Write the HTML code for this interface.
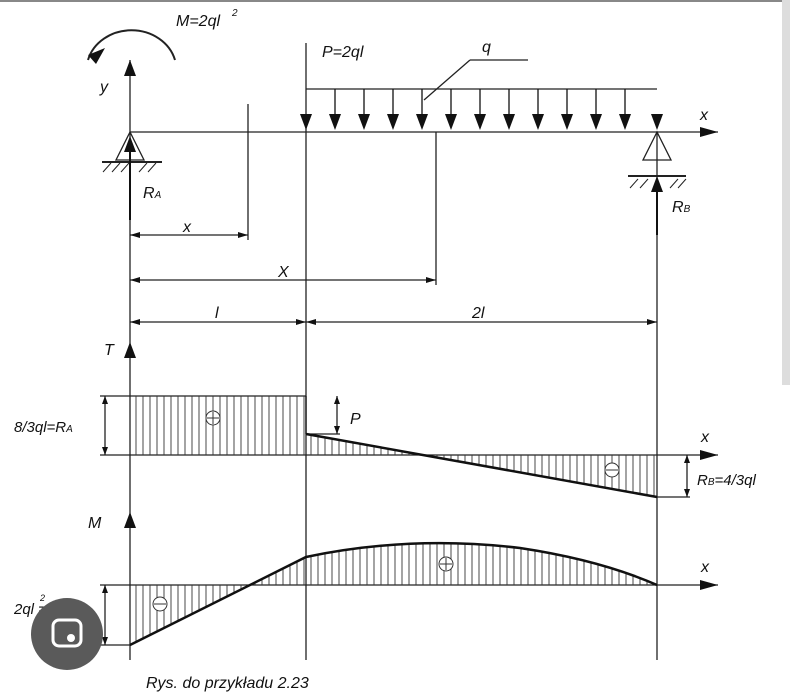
<!DOCTYPE html><html><head><style>body{margin:0;background:#fff}svg{display:block}text{font-family:"Liberation Sans",sans-serif;font-style:italic;fill:#111}</style></head><body>
<svg width="790" height="699" viewBox="0 0 790 699" xmlns="http://www.w3.org/2000/svg">
<defs><pattern id="h" width="7" height="10" patternUnits="userSpaceOnUse"><line x1="3" y1="0" x2="3" y2="10" stroke="#333" stroke-width="0.9"/></pattern></defs>
<rect x="0" y="0" width="790" height="2" fill="#888"/>
<rect x="782" y="0" width="8" height="385" fill="#ddd"/>
<g stroke="#222" stroke-width="1.3" fill="none">
<line x1="130" y1="60" x2="130" y2="660"/>
<line x1="306" y1="43" x2="306" y2="660"/>
<line x1="657" y1="132" x2="657" y2="660"/>
<line x1="248" y1="104" x2="248" y2="240"/>
<line x1="436" y1="132" x2="436" y2="285"/>
<line x1="130" y1="132" x2="718" y2="132"/>
<line x1="306" y1="89" x2="657" y2="89"/>
<line x1="424" y1="100" x2="470" y2="60"/><line x1="470" y1="60" x2="528" y2="60"/>
<path d="M130,132 L116,160 L144,160Z"/><line x1="102" y1="162" x2="162" y2="162" stroke-width="2"/>
<path d="M657,132 L643,160 L671,160Z"/><line x1="628" y1="176" x2="686" y2="176" stroke-width="2"/>
<path d="M103,172 l8,-9 M112,172 l8,-9 M121,172 l8,-9 M139,172 l8,-9 M148,172 l8,-9 M630,188 l8,-9 M640,188 l8,-9 M670,188 l8,-9 M678,188 l8,-9" stroke-width="1"/>
<path d="M88,60 A45,40 0 0 1 175,60" stroke-width="2"/>
<line x1="130" y1="235" x2="248" y2="235"/><line x1="130" y1="280" x2="436" y2="280"/><line x1="130" y1="322" x2="657" y2="322"/>
<line x1="100" y1="396" x2="306" y2="396"/><line x1="100" y1="455" x2="718" y2="455"/>
<line x1="306" y1="434" x2="340" y2="434"/><line x1="657" y1="497" x2="690" y2="497"/>
<line x1="105" y1="396" x2="105" y2="455"/><line x1="337" y1="396" x2="337" y2="434"/><line x1="687" y1="455" x2="687" y2="497"/>
<line x1="100" y1="585" x2="718" y2="585"/><line x1="100" y1="645" x2="130" y2="645"/><line x1="105" y1="585" x2="105" y2="645"/>
</g>
<g fill="url(#h)" stroke="none">
<rect x="130" y="396" width="176" height="59"/>
<path d="M306,434 L420,455 L306,455Z"/><path d="M420,455 L657,497 L657,455Z"/>
<path d="M130,645 L248,585 L130,585Z"/>
<path d="M248,585 L306,557 Q410,535 520,548 Q600,560 657,585Z"/>
</g>
<g stroke="#111" stroke-width="2.5" fill="none">
<line x1="306" y1="434" x2="657" y2="497"/>
<path d="M130,645 L306,557 Q410,535 520,548 Q600,560 657,585"/>
<line x1="306" y1="396" x2="306" y2="434" stroke-width="1.3"/>
</g>
<g fill="#111">
<path d="M124,152 L130,136 L136,152Z"/><line x1="130" y1="150" x2="130" y2="220" stroke="#111" stroke-width="2"/>
<path d="M651,192 L657,176 L663,192Z"/><line x1="657" y1="190" x2="657" y2="235" stroke="#111" stroke-width="2"/>
<path d="M124,76 L130,60 L136,76Z"/>
<path d="M124,358 L130,342 L136,358Z"/><path d="M124,528 L130,512 L136,528Z"/>
<path d="M700,127 L718,132 L700,137Z"/><path d="M700,450 L718,455 L700,460Z"/><path d="M700,580 L718,585 L700,590Z"/>
<path d="M88,55 L105,48 L96,64Z"/>
<path d="M300,114 L306,130 L312,114Z"/>
<path d="M329,114 L335,130 L341,114Z"/><path d="M358,114 L364,130 L370,114Z"/><path d="M387,114 L393,130 L399,114Z"/><path d="M416,114 L422,130 L428,114Z"/><path d="M445,114 L451,130 L457,114Z"/><path d="M474,114 L480,130 L486,114Z"/><path d="M503,114 L509,130 L515,114Z"/><path d="M532,114 L538,130 L544,114Z"/><path d="M561,114 L567,130 L573,114Z"/><path d="M590,114 L596,130 L602,114Z"/><path d="M619,114 L625,130 L631,114Z"/><path d="M651,114 L657,130 L663,114Z"/>
</g>
<g stroke="#111" stroke-width="1.3">
<line x1="335" y1="89" x2="335" y2="116"/><line x1="364" y1="89" x2="364" y2="116"/><line x1="393" y1="89" x2="393" y2="116"/><line x1="422" y1="89" x2="422" y2="116"/><line x1="451" y1="89" x2="451" y2="116"/><line x1="480" y1="89" x2="480" y2="116"/><line x1="509" y1="89" x2="509" y2="116"/><line x1="538" y1="89" x2="538" y2="116"/><line x1="567" y1="89" x2="567" y2="116"/><line x1="596" y1="89" x2="596" y2="116"/><line x1="625" y1="89" x2="625" y2="116"/>
</g>
<g fill="#111"><path d="M130,235 l10,-3 v6z M248,235 l-10,-3 v6z M130,280 l10,-3 v6z M436,280 l-10,-3 v6z M130,322 l10,-3 v6z M306,322 l-10,-3 v6z M306,322 l10,-3 v6z M657,322 l-10,-3 v6z
M105,396 l-3,8 h6z M105,455 l3,-8 h-6z M337,396 l-3,8 h6z M337,434 l3,-8 h-6z M687,455 l-3,8 h6z M687,497 l3,-8 h-6z M105,585 l-3,8 h6z M105,645 l3,-8 h-6z"/></g>
<g stroke="#333" fill="#fff" stroke-width="1"><circle cx="213" cy="418" r="7"/><circle cx="612" cy="470" r="7"/><circle cx="446" cy="564" r="7"/><circle cx="160" cy="604" r="7"/></g>
<g stroke="#333" stroke-width="1"><path d="M207,418h12M213,412v12M606,470h12M440,564h12M446,558v12M154,604h12"/></g>
<g font-size="16">
<text x="176" y="26">M=2ql</text><text x="232" y="16" font-size="10">2</text>
<text x="322" y="57">P=2ql</text><text x="482" y="52">q</text><text x="100" y="92">y</text>
<text x="700" y="120">x</text><text x="143" y="198">R<tspan font-size="10">A</tspan></text>
<text x="672" y="212">R<tspan font-size="10">B</tspan></text>
<text x="183" y="232">x</text><text x="278" y="277">X</text><text x="215" y="318">l</text><text x="472" y="318">2l</text>
<text x="104" y="355">T</text><text x="14" y="432" font-size="15">8/3ql=R<tspan font-size="10">A</tspan></text>
<text x="350" y="424">P</text><text x="701" y="442">x</text><text x="697" y="485" font-size="15">R<tspan font-size="10">B</tspan>=4/3ql</text>
<text x="88" y="528">M</text><text x="701" y="572">x</text>
<text x="14" y="614" font-size="15">2ql  =M</text><text x="40" y="601" font-size="9">2</text>
<text x="146" y="688">Rys. do przykładu 2.23</text>
</g>
<circle cx="67" cy="634" r="36" fill="#5a5a5a"/>
<rect x="53" y="620" width="28" height="26" rx="6" fill="none" stroke="#fff" stroke-width="3"/>
<circle cx="71" cy="638" r="4" fill="#fff"/>
</svg></body></html>
